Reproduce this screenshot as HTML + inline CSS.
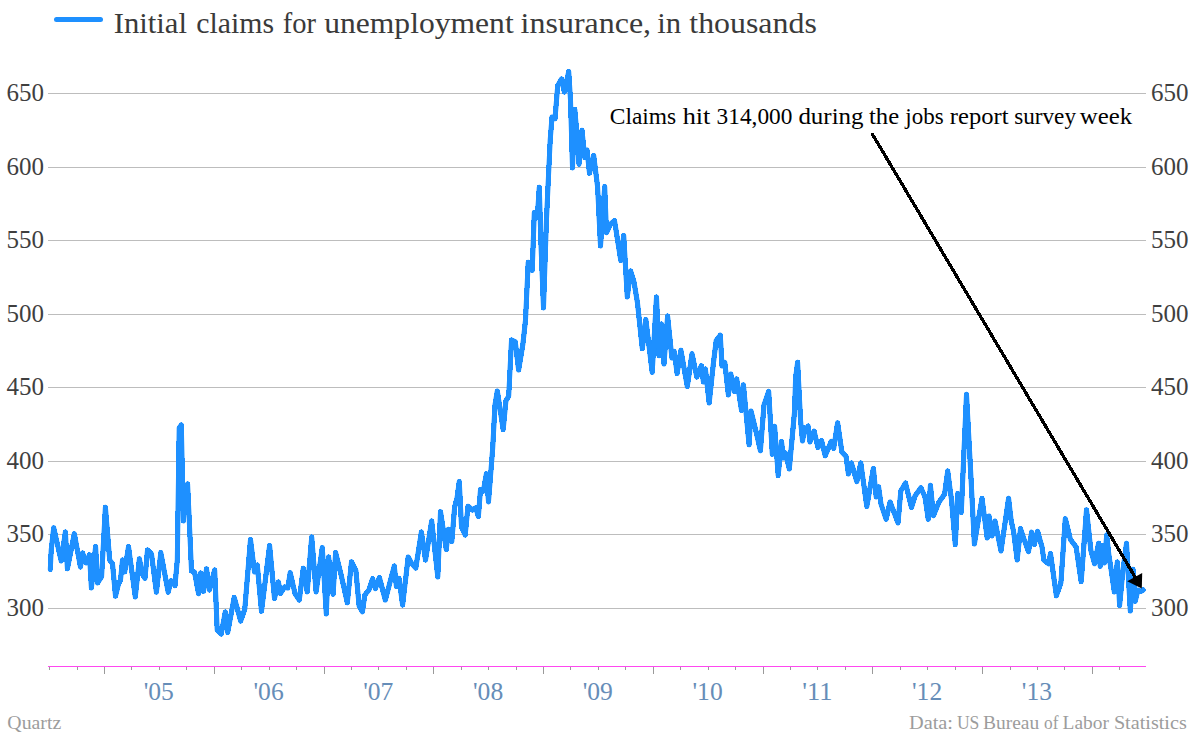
<!DOCTYPE html>
<html lang="en">
<head>
<meta charset="utf-8">
<title>Initial claims for unemployment insurance, in thousands</title>
<style>
html,body{margin:0;padding:0;background:#fff;}
body{width:1195px;height:739px;overflow:hidden;font-family:"Liberation Serif",serif;}
svg{display:block;}
text{font-family:"Liberation Serif",serif;}
.yl{font-size:25px;fill:#3f3f3f;}
.xl{font-size:25px;fill:#668db8;}
.title{font-size:30px;fill:#3a3a3a;}
.note{font-size:23px;fill:#000;}
.credit{font-size:19.8px;fill:#9c9c9c;}
</style>
</head>
<body>
<svg width="1195" height="739" viewBox="0 0 1195 739">
<rect x="0" y="0" width="1195" height="739" fill="#ffffff"/>
<!-- legend / title -->
<line x1="56.5" y1="19.5" x2="100.5" y2="19.5" stroke="#1e90ff" stroke-width="5" stroke-linecap="round"/>
<text y="32.8" class="title"><tspan x="113.7" textLength="73.3" lengthAdjust="spacingAndGlyphs">Initial</tspan> <tspan x="196.3" textLength="77.8" lengthAdjust="spacingAndGlyphs">claims</tspan> <tspan x="282.7" textLength="33.2" lengthAdjust="spacingAndGlyphs">for</tspan> <tspan x="324.2" textLength="189.5" lengthAdjust="spacingAndGlyphs">unemployment</tspan> <tspan x="520.6" textLength="130.5" lengthAdjust="spacingAndGlyphs">insurance,</tspan> <tspan x="657.3" textLength="23.9" lengthAdjust="spacingAndGlyphs">in</tspan> <tspan x="689.3" textLength="127.5" lengthAdjust="spacingAndGlyphs">thousands</tspan></text>
<!-- gridlines -->
<rect x="48" y="93" width="1098" height="1" fill="#bdbdbd"/>
<rect x="48" y="167" width="1098" height="1" fill="#bdbdbd"/>
<rect x="48" y="240" width="1098" height="1" fill="#bdbdbd"/>
<rect x="48" y="314" width="1098" height="1" fill="#bdbdbd"/>
<rect x="48" y="387" width="1098" height="1" fill="#bdbdbd"/>
<rect x="48" y="461" width="1098" height="1" fill="#bdbdbd"/>
<rect x="48" y="534" width="1098" height="1" fill="#bdbdbd"/>
<rect x="48" y="608" width="1098" height="1" fill="#bdbdbd"/>

<!-- y labels -->
<text x="6.5" y="101" class="yl">650</text>
<text x="1151" y="101" class="yl">650</text>
<text x="6.5" y="175" class="yl">600</text>
<text x="1151" y="175" class="yl">600</text>
<text x="6.5" y="248" class="yl">550</text>
<text x="1151" y="248" class="yl">550</text>
<text x="6.5" y="322" class="yl">500</text>
<text x="1151" y="322" class="yl">500</text>
<text x="6.5" y="395" class="yl">450</text>
<text x="1151" y="395" class="yl">450</text>
<text x="6.5" y="469" class="yl">400</text>
<text x="1151" y="469" class="yl">400</text>
<text x="6.5" y="542" class="yl">350</text>
<text x="1151" y="542" class="yl">350</text>
<text x="6.5" y="616" class="yl">300</text>
<text x="1151" y="616" class="yl">300</text>

<!-- x axis -->
<rect x="48" y="666" width="1098" height="1" fill="#ff48f0"/>
<rect x="49" y="667" width="1" height="3" fill="#9a9a9a"/>
<rect x="77" y="667" width="1" height="3" fill="#9a9a9a"/>
<rect x="104" y="667" width="1" height="7" fill="#9a9a9a"/>
<rect x="131" y="667" width="1" height="3" fill="#9a9a9a"/>
<rect x="159" y="667" width="1" height="3" fill="#9a9a9a"/>
<rect x="186" y="667" width="1" height="3" fill="#9a9a9a"/>
<rect x="214" y="667" width="1" height="7" fill="#9a9a9a"/>
<rect x="241" y="667" width="1" height="3" fill="#9a9a9a"/>
<rect x="269" y="667" width="1" height="3" fill="#9a9a9a"/>
<rect x="296" y="667" width="1" height="3" fill="#9a9a9a"/>
<rect x="324" y="667" width="1" height="7" fill="#9a9a9a"/>
<rect x="351" y="667" width="1" height="3" fill="#9a9a9a"/>
<rect x="378" y="667" width="1" height="3" fill="#9a9a9a"/>
<rect x="406" y="667" width="1" height="3" fill="#9a9a9a"/>
<rect x="433" y="667" width="1" height="7" fill="#9a9a9a"/>
<rect x="461" y="667" width="1" height="3" fill="#9a9a9a"/>
<rect x="488" y="667" width="1" height="3" fill="#9a9a9a"/>
<rect x="516" y="667" width="1" height="3" fill="#9a9a9a"/>
<rect x="543" y="667" width="1" height="7" fill="#9a9a9a"/>
<rect x="570" y="667" width="1" height="3" fill="#9a9a9a"/>
<rect x="598" y="667" width="1" height="3" fill="#9a9a9a"/>
<rect x="625" y="667" width="1" height="3" fill="#9a9a9a"/>
<rect x="653" y="667" width="1" height="7" fill="#9a9a9a"/>
<rect x="680" y="667" width="1" height="3" fill="#9a9a9a"/>
<rect x="708" y="667" width="1" height="3" fill="#9a9a9a"/>
<rect x="735" y="667" width="1" height="3" fill="#9a9a9a"/>
<rect x="763" y="667" width="1" height="7" fill="#9a9a9a"/>
<rect x="790" y="667" width="1" height="3" fill="#9a9a9a"/>
<rect x="817" y="667" width="1" height="3" fill="#9a9a9a"/>
<rect x="845" y="667" width="1" height="3" fill="#9a9a9a"/>
<rect x="872" y="667" width="1" height="7" fill="#9a9a9a"/>
<rect x="900" y="667" width="1" height="3" fill="#9a9a9a"/>
<rect x="927" y="667" width="1" height="3" fill="#9a9a9a"/>
<rect x="955" y="667" width="1" height="3" fill="#9a9a9a"/>
<rect x="982" y="667" width="1" height="7" fill="#9a9a9a"/>
<rect x="1010" y="667" width="1" height="3" fill="#9a9a9a"/>
<rect x="1037" y="667" width="1" height="3" fill="#9a9a9a"/>
<rect x="1064" y="667" width="1" height="3" fill="#9a9a9a"/>
<rect x="1092" y="667" width="1" height="7" fill="#9a9a9a"/>
<rect x="1119" y="667" width="1" height="3" fill="#9a9a9a"/>

<text x="143.7" y="700" class="xl" textLength="30.2" lengthAdjust="spacingAndGlyphs">'05</text>
<text x="253.5" y="700" class="xl" textLength="30.2" lengthAdjust="spacingAndGlyphs">'06</text>
<text x="363.2" y="700" class="xl" textLength="30.2" lengthAdjust="spacingAndGlyphs">'07</text>
<text x="473.0" y="700" class="xl" textLength="30.2" lengthAdjust="spacingAndGlyphs">'08</text>
<text x="582.7" y="700" class="xl" textLength="30.2" lengthAdjust="spacingAndGlyphs">'09</text>
<text x="692.5" y="700" class="xl" textLength="30.2" lengthAdjust="spacingAndGlyphs">'10</text>
<text x="802.3" y="700" class="xl" textLength="30.2" lengthAdjust="spacingAndGlyphs">'11</text>
<text x="912.0" y="700" class="xl" textLength="30.2" lengthAdjust="spacingAndGlyphs">'12</text>
<text x="1021.8" y="700" class="xl" textLength="30.2" lengthAdjust="spacingAndGlyphs">'13</text>

<!-- data line -->
<polyline shape-rendering="crispEdges" fill="none" stroke="#1e90ff" stroke-width="5" stroke-linejoin="round" stroke-linecap="round" points="50.3,569.5 51.2,550 53.7,527.8 61.2,561 65.4,531.9 67.4,568.8 74.3,533.8 80.5,567 82.6,553 86.2,563 89.5,554.8 91.4,588 95.6,546.6 97.6,583 101.6,576.7 105.4,507.2 109.7,560 112.5,563.7 115.5,596.2 118.5,584 120.5,580 122.5,560 124.7,571.9 128.5,546.6 135.3,597 139.4,558.8 142.2,574 145,578.4 147.5,549.9 151.5,554 156.4,592.2 160.8,552.6 168.2,592.2 171,580.7 175,585.6 177.3,560 179.2,428 181.3,425 183.4,521 185.5,486 187.6,484 189.7,530 191.5,571 194.5,572 198.6,593.8 200.7,573 203.5,591.3 206.5,568.8 209.5,590 212,580 214.7,570 217.2,630 221.2,634 225.3,612 227.7,632.4 234.2,597.5 240.7,621 244.8,609 250.5,539.5 254.5,572 257.3,565 261.5,611.3 269.6,545.5 274.5,598.4 278.4,582 280.5,593.5 284.5,587 287.8,588 290.2,572.6 295,593.5 299.3,600 303.3,568.3 307.2,591.9 311.7,537 316.1,591.9 322.3,547.6 326.3,614 328.6,557 333.1,594.3 335.6,552.5 341.3,575.6 347.3,602.7 351.5,561.8 355.9,570.7 359.1,605.7 362.4,611.8 364.8,595 368.9,590 372.6,578.8 375.4,588.6 379.4,577.5 385.3,600 394.3,566 396.4,586.6 399,578.3 402.6,605 408.2,557 411.4,563 415.8,568 421.4,532 425.5,560 431.7,521 437.8,577 440.5,511.7 446.3,549.6 448.4,529.3 451.8,541.5 454.6,507.4 457,498 459.3,481.5 461.5,526.9 465.2,535 468,506.2 472.5,510 475.7,507.8 478.4,516.4 480.5,489.5 483.4,491 486.4,473.7 488.5,501.9 492.7,448 495,405 497.3,391 503.2,429.6 505.9,401 508.7,396 511.5,340 515.3,341.8 518.6,370 522.9,344 525.5,320 528.2,262.3 532.2,270.4 534.3,212.6 537.3,217 539.3,187.2 541,245 543.5,308 546.4,221 548.4,178 550.2,140 552,117 555,118.7 557.7,85.7 561.5,79 564.4,92 568.7,71.5 570.5,100 572.5,168 574.8,109.4 577,135 579,164.2 582,130.2 584.7,157.5 587,150 589.5,173.3 593.7,155.5 597.6,187 600.5,246 604.7,186.6 606.5,232.8 610.5,224 614.5,220.7 620.8,260.5 623.7,235.5 627.3,297 630.6,271 634,282 637.5,303 642.3,348.6 645.8,319.4 652.2,372.3 656.5,297 659,355.7 661.5,324 664,364 667.6,315.9 671.9,358 674.2,351.4 677.1,373.5 680.9,350.2 687.3,386.5 692,353.8 696.8,377 701.4,365.7 703.4,382 705.4,369 709.2,403 713.2,365 716.2,340.5 720.3,335.2 722,366 724.8,362.5 728.4,395 730.8,374 734.4,391.5 736.7,378.9 741.5,410.4 743.4,384.8 749.1,444.8 751,410.9 755.7,430 760.4,450.7 764,405 768.7,391.4 772.3,454.3 774.6,426.3 778.2,475.6 781.5,441.5 783.5,458 785.5,453 789.3,469 791.6,444 794.5,412 795.6,378 797.6,362.2 800.6,421 802.5,441 804.8,428 806.4,430 808.1,426 810,442 814.1,431 818,447.5 821.6,440.8 825.2,455.7 831.3,441.3 833.7,448.4 837.6,422.8 841.9,452 846.1,456.5 848.4,474 851.4,463 856.8,481.6 860.8,463 866.8,506.5 873.4,468.5 876.2,497 878.6,486.8 881,504 886.1,519.3 890.1,502 898,522.8 900.8,491 905.5,483 911.5,507.4 915,496 920.9,487.7 925,497 928.3,519.3 930.4,485.3 933.5,515.7 938.7,502.6 944.6,494 947.7,471 951.5,500 955.3,544.6 957.7,493.6 961.3,512.5 964,450 966.5,394.3 970.1,461 974.4,544 982,498.4 987.2,538 989.1,516 992,536 995,521 1001,551 1008.6,498.2 1011.2,521 1013.5,531 1017.2,560 1020.5,528.7 1024.3,540 1028.5,551.7 1031.6,532.1 1034.3,544.5 1037.6,531.4 1042,547 1043.9,560 1048.6,563.8 1050.5,553.6 1056.4,595.8 1060.9,582.8 1065.3,518.7 1070.4,539.4 1076.1,547 1081.2,581.6 1086.5,509.8 1090.9,550.5 1094.6,563.8 1098.6,543.2 1100.2,566.4 1102.4,545.5 1104.4,563 1106.7,535 1109,556 1111.5,572 1114.3,592 1117.3,562 1119.6,605.4 1123,570 1126.5,543.2 1130.3,611 1133,569.3 1135.2,601.4 1138,590 1140.5,591.5 1143,590"/>
<polyline fill="none" stroke="#1e90ff" stroke-width="5" stroke-linejoin="round" stroke-linecap="round" points="50.3,569.5 51.2,550 53.7,527.8 61.2,561 65.4,531.9 67.4,568.8 74.3,533.8 80.5,567 82.6,553 86.2,563 89.5,554.8 91.4,588 95.6,546.6 97.6,583 101.6,576.7 105.4,507.2 109.7,560 112.5,563.7 115.5,596.2 118.5,584 120.5,580 122.5,560 124.7,571.9 128.5,546.6 135.3,597 139.4,558.8 142.2,574 145,578.4 147.5,549.9 151.5,554 156.4,592.2 160.8,552.6 168.2,592.2 171,580.7 175,585.6 177.3,560 179.2,428 181.3,425 183.4,521 185.5,486 187.6,484 189.7,530 191.5,571 194.5,572 198.6,593.8 200.7,573 203.5,591.3 206.5,568.8 209.5,590 212,580 214.7,570 217.2,630 221.2,634 225.3,612 227.7,632.4 234.2,597.5 240.7,621 244.8,609 250.5,539.5 254.5,572 257.3,565 261.5,611.3 269.6,545.5 274.5,598.4 278.4,582 280.5,593.5 284.5,587 287.8,588 290.2,572.6 295,593.5 299.3,600 303.3,568.3 307.2,591.9 311.7,537 316.1,591.9 322.3,547.6 326.3,614 328.6,557 333.1,594.3 335.6,552.5 341.3,575.6 347.3,602.7 351.5,561.8 355.9,570.7 359.1,605.7 362.4,611.8 364.8,595 368.9,590 372.6,578.8 375.4,588.6 379.4,577.5 385.3,600 394.3,566 396.4,586.6 399,578.3 402.6,605 408.2,557 411.4,563 415.8,568 421.4,532 425.5,560 431.7,521 437.8,577 440.5,511.7 446.3,549.6 448.4,529.3 451.8,541.5 454.6,507.4 457,498 459.3,481.5 461.5,526.9 465.2,535 468,506.2 472.5,510 475.7,507.8 478.4,516.4 480.5,489.5 483.4,491 486.4,473.7 488.5,501.9 492.7,448 495,405 497.3,391 503.2,429.6 505.9,401 508.7,396 511.5,340 515.3,341.8 518.6,370 522.9,344 525.5,320 528.2,262.3 532.2,270.4 534.3,212.6 537.3,217 539.3,187.2 541,245 543.5,308 546.4,221 548.4,178 550.2,140 552,117 555,118.7 557.7,85.7 561.5,79 564.4,92 568.7,71.5 570.5,100 572.5,168 574.8,109.4 577,135 579,164.2 582,130.2 584.7,157.5 587,150 589.5,173.3 593.7,155.5 597.6,187 600.5,246 604.7,186.6 606.5,232.8 610.5,224 614.5,220.7 620.8,260.5 623.7,235.5 627.3,297 630.6,271 634,282 637.5,303 642.3,348.6 645.8,319.4 652.2,372.3 656.5,297 659,355.7 661.5,324 664,364 667.6,315.9 671.9,358 674.2,351.4 677.1,373.5 680.9,350.2 687.3,386.5 692,353.8 696.8,377 701.4,365.7 703.4,382 705.4,369 709.2,403 713.2,365 716.2,340.5 720.3,335.2 722,366 724.8,362.5 728.4,395 730.8,374 734.4,391.5 736.7,378.9 741.5,410.4 743.4,384.8 749.1,444.8 751,410.9 755.7,430 760.4,450.7 764,405 768.7,391.4 772.3,454.3 774.6,426.3 778.2,475.6 781.5,441.5 783.5,458 785.5,453 789.3,469 791.6,444 794.5,412 795.6,378 797.6,362.2 800.6,421 802.5,441 804.8,428 806.4,430 808.1,426 810,442 814.1,431 818,447.5 821.6,440.8 825.2,455.7 831.3,441.3 833.7,448.4 837.6,422.8 841.9,452 846.1,456.5 848.4,474 851.4,463 856.8,481.6 860.8,463 866.8,506.5 873.4,468.5 876.2,497 878.6,486.8 881,504 886.1,519.3 890.1,502 898,522.8 900.8,491 905.5,483 911.5,507.4 915,496 920.9,487.7 925,497 928.3,519.3 930.4,485.3 933.5,515.7 938.7,502.6 944.6,494 947.7,471 951.5,500 955.3,544.6 957.7,493.6 961.3,512.5 964,450 966.5,394.3 970.1,461 974.4,544 982,498.4 987.2,538 989.1,516 992,536 995,521 1001,551 1008.6,498.2 1011.2,521 1013.5,531 1017.2,560 1020.5,528.7 1024.3,540 1028.5,551.7 1031.6,532.1 1034.3,544.5 1037.6,531.4 1042,547 1043.9,560 1048.6,563.8 1050.5,553.6 1056.4,595.8 1060.9,582.8 1065.3,518.7 1070.4,539.4 1076.1,547 1081.2,581.6 1086.5,509.8 1090.9,550.5 1094.6,563.8 1098.6,543.2 1100.2,566.4 1102.4,545.5 1104.4,563 1106.7,535 1109,556 1111.5,572 1114.3,592 1117.3,562 1119.6,605.4 1123,570 1126.5,543.2 1130.3,611 1133,569.3 1135.2,601.4 1138,590 1140.5,591.5 1143,590"/>
<!-- annotation -->
<text y="123.6" class="note"><tspan x="609.8" textLength="66.3" lengthAdjust="spacingAndGlyphs">Claims</tspan> <tspan x="682.7" textLength="27.7" lengthAdjust="spacingAndGlyphs">hit</tspan> <tspan x="716.6" textLength="75.8" lengthAdjust="spacingAndGlyphs">314,000</tspan> <tspan x="798.4" textLength="65.2" lengthAdjust="spacingAndGlyphs">during</tspan> <tspan x="869.0" textLength="30.1" lengthAdjust="spacingAndGlyphs">the</tspan> <tspan x="905.3" textLength="38.3" lengthAdjust="spacingAndGlyphs">jobs</tspan> <tspan x="949.8" textLength="58.7" lengthAdjust="spacingAndGlyphs">report</tspan> <tspan x="1014.2" textLength="61.8" lengthAdjust="spacingAndGlyphs">survey</tspan> <tspan x="1079.8" textLength="52.4" lengthAdjust="spacingAndGlyphs">week</tspan></text>
<line x1="871.7" y1="133" x2="1136.6" y2="579.6" stroke="#000" stroke-width="3.3" shape-rendering="crispEdges"/>
<polygon points="1141.8,588.4 1127.2,581.3 1142.2,573" fill="#000"/>
<!-- credits -->
<text x="7.3" y="729" class="credit" textLength="54" lengthAdjust="spacing">Quartz</text>
<text y="729.2" class="credit"><tspan x="909.0" textLength="44.0" lengthAdjust="spacingAndGlyphs">Data:</tspan> <tspan x="956.9" textLength="22.5" lengthAdjust="spacingAndGlyphs">US</tspan> <tspan x="983.1" textLength="56.1" lengthAdjust="spacingAndGlyphs">Bureau</tspan> <tspan x="1044.0" textLength="14.4" lengthAdjust="spacingAndGlyphs">of</tspan> <tspan x="1062.6" textLength="46.4" lengthAdjust="spacingAndGlyphs">Labor</tspan> <tspan x="1113.9" textLength="72.9" lengthAdjust="spacingAndGlyphs">Statistics</tspan></text>
</svg>
</body>
</html>
